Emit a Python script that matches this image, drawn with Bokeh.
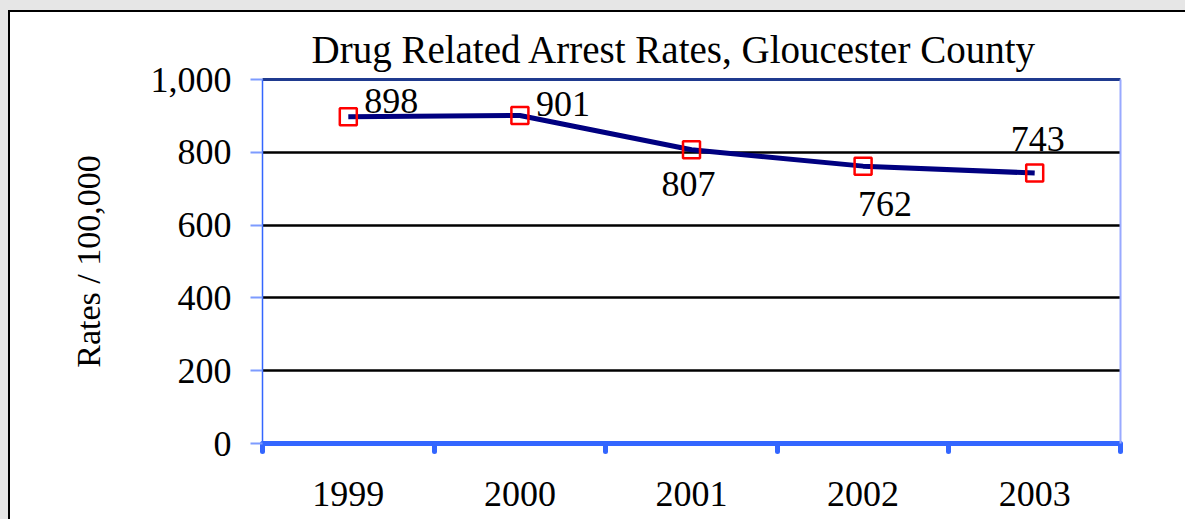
from bokeh.plotting import figure
from bokeh.models import (FactorRange, Range1d, LinearAxis, CategoricalAxis,
                          FixedTicker, NumeralTickFormatter, Grid, ColumnDataSource)
from bokeh.core.properties import value
from bokeh.embed import file_html
from bokeh.resources import INLINE

# ---- data ----
years = ["1999", "2000", "2001", "2002", "2003"]
rates = [898, 901, 807, 762, 743]
rate_labels = ["898", "901", "807", "762", "743"]
y_ticks = [0, 200, 400, 600, 800, 1000]
title_text = "Drug Related Arrest Rates,  Gloucester County"
y_label = "Rates / 100,000"

# ---- label placement (style, screen px) ----
label_dx = [43, 43, -3, 22, 3]
label_dy = [-16, -12, 34, 38, -34]

FONT = "Liberation Serif"

src = ColumnDataSource(dict(year=years, rate=rates, txt=rate_labels,
                            dx=label_dx, dy=label_dy))

p = figure(width=1177, height=509, x_range=FactorRange(*years, range_padding=0),
           y_range=Range1d(0, 1000), output_backend="svg", toolbar_location=None,
           x_axis_location=None, y_axis_location=None,
           min_border_left=252, min_border_right=67, min_border_top=67,
           min_border_bottom=78)
p.styles = {"border-left": "2px solid black", "border-top": "2px solid black",
            "margin-left": "8px", "margin-top": "10px",
            "box-shadow": "-8px 0 0 0 #e6e6e6, 0 -10px 0 0 #e6e6e6, -8px -10px 0 0 #e6e6e6"}
p.outline_line_color = None
p.background_fill_color = "white"
p.border_fill_color = "white"
for g in p.grid:
    g.visible = False

# title
p.title.text = title_text
p.title.align = "left"
p.title.text_font = FONT
p.title.text_font_size = "39px"
p.title.text_font_style = "normal"
p.title.text_color = "black"
p.title.offset = 49
p.title.standoff = 18

# top border (1,000 line)
tpx = LinearAxis(ticker=FixedTicker(ticks=[]))
tpx.axis_line_color = "#1f3a8f"
tpx.axis_line_width = 3
tpx.major_tick_line_color = None
tpx.minor_tick_line_color = None
tpx.major_label_text_font_size = "1px"
tpx.major_label_standoff = 0
p.add_layout(tpx, "above")

# y axis
yax = LinearAxis(ticker=FixedTicker(ticks=y_ticks),
                 formatter=NumeralTickFormatter(format="0,0"))
yax.axis_line_color = "#3366ff"
yax.axis_line_width = 1.5
yax.major_tick_line_color = "#7d9bff"
yax.major_tick_line_width = 2
yax.major_tick_out = 12
yax.major_tick_in = 0
yax.minor_tick_line_color = None
yax.major_label_text_font = FONT
yax.major_label_text_font_size = "36px"
yax.major_label_text_color = "black"
yax.major_label_standoff = 19
yax.axis_label = y_label
yax.axis_label_text_font = FONT
yax.axis_label_text_font_size = "34px"
yax.axis_label_text_font_style = "normal"
yax.axis_label_text_color = "black"
yax.axis_label_standoff = 41
p.add_layout(yax, "left")

# right border
rax = LinearAxis(ticker=FixedTicker(ticks=[]))
rax.axis_line_color = "#99aaff"
rax.axis_line_width = 2
rax.major_tick_line_color = None
rax.minor_tick_line_color = None
rax.major_label_text_font_size = "1px"
p.add_layout(rax, "right")

# x axis with ticks at category boundaries (synthetic coordinates 0..n)
tax = LinearAxis(ticker=FixedTicker(ticks=list(range(len(years) + 1))))
tax.axis_line_color = "#3366ff"
tax.axis_line_width = 5
tax.major_tick_line_color = "#3366ff"
tax.major_tick_line_width = 5
tax.major_tick_line_cap = "round"
tax.major_tick_out = 8
tax.major_tick_in = 0
tax.minor_tick_line_color = None
tax.major_label_text_font_size = "1px"
tax.major_label_text_color = None
tax.major_label_standoff = 0
p.add_layout(tax, "below")

cax = CategoricalAxis()
cax.axis_line_color = None
cax.major_tick_line_color = None
cax.major_label_text_font = FONT
cax.major_label_text_font_size = "36px"
cax.major_label_text_color = "black"
cax.major_label_standoff = 24
p.add_layout(cax, "below")

# grid
p.add_layout(Grid(dimension=1, ticker=FixedTicker(ticks=y_ticks[1:-1]),
                  grid_line_color="black", grid_line_width=2.5))

# series
p.line("year", "rate", source=src, line_color="#000080", line_width=5)
p.scatter("year", "rate", source=src, marker="square", size=17,
          fill_color=None, line_color="#ff0000", line_width=2.5)
p.text("year", "rate", text="txt", source=src, x_offset="dx", y_offset="dy",
       text_font=value(FONT), text_font_size="36px", text_color="black",
       text_align="center", text_baseline="middle")

open("out.html", "w").write(file_html(p, INLINE))
